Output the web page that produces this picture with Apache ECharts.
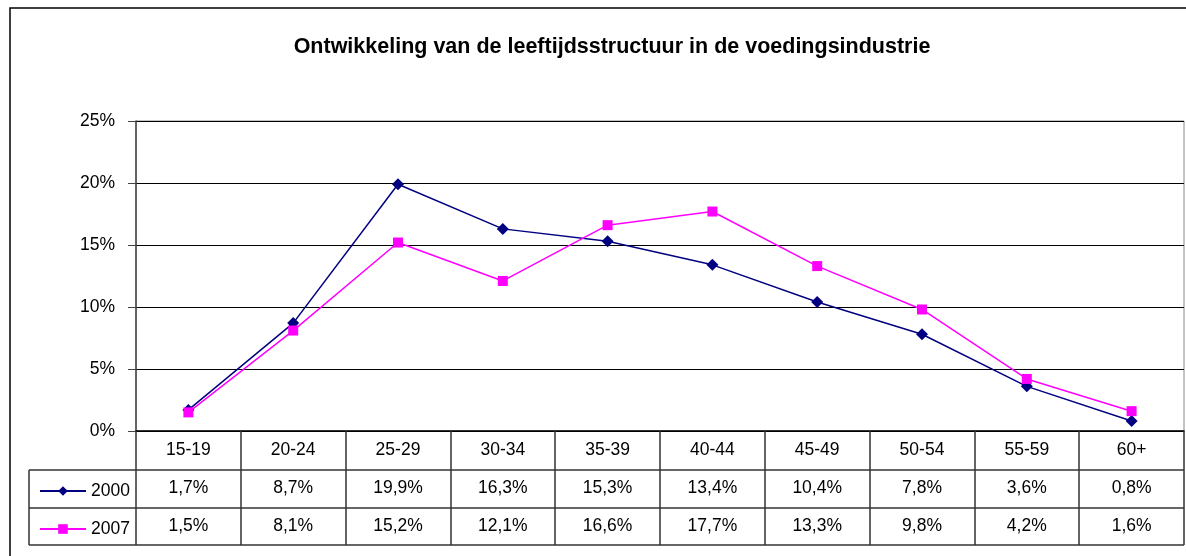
<!DOCTYPE html>
<html>
<head>
<meta charset="utf-8">
<script src="https://cdn.jsdelivr.net/npm/echarts@6/dist/echarts.min.js"></script>
<style>
  html, body { margin: 0; padding: 0; background: #fff; }
  #chart { width: 1186px; height: 556px; }
</style>
</head>
<body>
<div id="chart"></div>
<script>
// leeftijdsklassen
const ageGroups = ['15-19', '20-24', '25-29', '30-34', '35-39', '40-44', '45-49', '50-54', '55-59', '60+']
// aandeel per jaar (%)
const values2000 = [1.7, 8.7, 19.9, 16.3, 15.3, 13.4, 10.4, 7.8, 3.6, 0.8]
const values2007 = [1.5, 8.1, 15.2, 12.1, 16.6, 17.7, 13.3, 9.8, 4.2, 1.6]
const seriesNames = ['2000', '2007']

const fmt = v => v.toFixed(1).replace('.', ',') + '%'
const font = '"Liberation Sans", Arial, sans-serif'

const chart = echarts.init(document.getElementById('chart'))

// tabelranden (links kolom + horizontale lijnen)
const gridLeft = 136, gridRight = 1184, gridBottom = 431
const rowY = [470, 508, 545]
const tableLines = rowY.map(y => ({
    type: 'line',
    shape: { x1: 29, y1: y, x2: gridRight, y2: y },
    style: { stroke: '#333', lineWidth: 1.5 }
}))
tableLines.push({
    type: 'line',
    shape: { x1: 29, y1: rowY[0], x2: 29, y2: rowY[2] },
    style: { stroke: '#333', lineWidth: 1.5 }
})

const option = {
    backgroundColor: '#fff',
    animation: false,
    textStyle: { fontFamily: font },
    title: {
        text: 'Ontwikkeling van de leeftijdsstructuur in de voedingsindustrie',
        left: 607,
        textAlign: 'center',
        top: 31,
        textStyle: { fontSize: 21.5, fontWeight: 'bold', color: '#000', fontFamily: font }
    },
    legend: {
        orient: 'vertical',
        left: 34,
        top: 477,
        itemGap: 20,
        itemWidth: 46,
        itemHeight: 12,
        textStyle: { fontSize: 17.5, color: '#000', fontFamily: font },
        data: seriesNames
    },
    grid: {
        left: gridLeft,
        right: 1186 - gridRight,
        top: 121,
        bottom: 556 - gridBottom,
        show: true,
        borderColor: '#888',
        borderWidth: 1
    },
    xAxis: {
        type: 'category',
        data: ageGroups,
        boundaryGap: true,
        axisLine: { lineStyle: { color: '#000', width: 1.5 } },
        axisTick: { show: true, inside: false, length: 114, alignWithLabel: false, lineStyle: { color: '#333', width: 1.5 } },
        axisLabel: {
            margin: 0,
            interval: 0,
            fontSize: 17.5,
            color: '#000',
            lineHeight: 38,
            fontFamily: font,
            formatter: (v, i) => [v, fmt(values2000[i]), fmt(values2007[i])].join('\n')
        },
        splitLine: { show: false }
    },
    yAxis: {
        type: 'value',
        min: 0,
        max: 25,
        interval: 5,
        axisLine: { show: true, lineStyle: { color: '#444', width: 1.5 } },
        axisTick: { show: true, inside: false, length: 8, lineStyle: { color: '#444' } },
        axisLabel: { formatter: '{value}%', fontSize: 17.5, color: '#000', margin: 21, fontFamily: font },
        splitLine: { show: true, lineStyle: { color: '#000', width: 1 } }
    },
    graphic: [
        {
            type: 'rect',
            shape: { x: 10, y: 8, width: 1200, height: 560 },
            style: { fill: 'none', stroke: '#000', lineWidth: 1.5 },
            silent: true
        }
    ].concat(tableLines),
    series: [
        {
            name: seriesNames[0],
            type: 'line',
            data: values2000,
            symbol: 'diamond',
            symbolSize: 12,
            itemStyle: { color: '#000080' },
            lineStyle: { color: '#000080', width: 1.5 }
        },
        {
            name: seriesNames[1],
            type: 'line',
            data: values2007,
            symbol: 'rect',
            symbolSize: 10,
            itemStyle: { color: '#ff00ff' },
            lineStyle: { color: '#ff00ff', width: 1.5 }
        }
    ]
}

chart.setOption(option)
</script>
</body>
</html>
